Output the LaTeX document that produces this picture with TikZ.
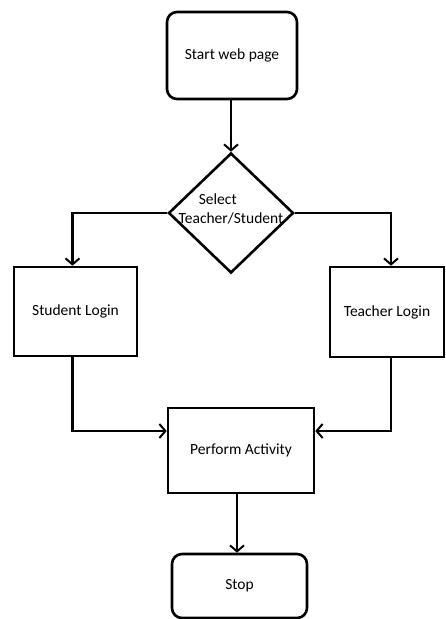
\documentclass[tikz,border=0pt]{standalone}
\usepackage{fontspec}
\setmainfont{Carlito}
\usetikzlibrary{arrows.meta,shapes.geometric}
\begin{document}
\begin{tikzpicture}[x=1pt,y=-1pt,
  every node/.style={font=\fontsize{15.5}{18.5}\selectfont},
  box/.style={draw,line width=2.6pt,rectangle,inner sep=0pt},
  roundbox/.style={box,rounded corners=10pt},
  conn/.style={line width=2.6pt,-{Straight Barb[length=6pt,width=14pt,line width=2pt]}}]
\useasboundingbox[fill=white] (0,0) rectangle (446,619);
\node[roundbox,minimum width=130pt,minimum height=87pt] (start) at (232,55.5) {Start web page};
\node[draw,line width=2.6pt,diamond,minimum width=125pt,minimum height=120pt,inner sep=0pt] (d) at (231,213) {};
\node[align=left,inner sep=0pt] (dt) at (231,209) {\hspace*{1.3em}Select\\Teacher/Student};
\node[box,minimum width=123pt,minimum height=89pt] (s) at (75.5,311.5) {Student Login};
\node[box,minimum width=114pt,minimum height=90pt] (t) at (387,312) {Teacher Login};
\node[box,minimum width=146pt,minimum height=85pt] (p) at (241,450.5) {Perform Activity};
\node[roundbox,minimum width=135pt,minimum height=64pt] (stop) at (239.5,586) {Stop};
\draw[conn] ([xshift=-1pt]start.south) -- ([xshift=-1pt]start.south |- d.north);
\draw[conn] (d.west) -| ([xshift=-3pt]s.north);
\draw[conn] (d.east) -| ([xshift=4pt]t.north);
\draw[conn] ([xshift=-3pt]s.south) |- ([yshift=19.5pt]p.west);
\draw[conn] ([xshift=4pt]t.south) |- ([yshift=19.5pt]p.east);
\draw[conn] ([xshift=-4pt]p.south) -- ([xshift=-4pt]p.south |- stop.north);
\end{tikzpicture}
\end{document}
